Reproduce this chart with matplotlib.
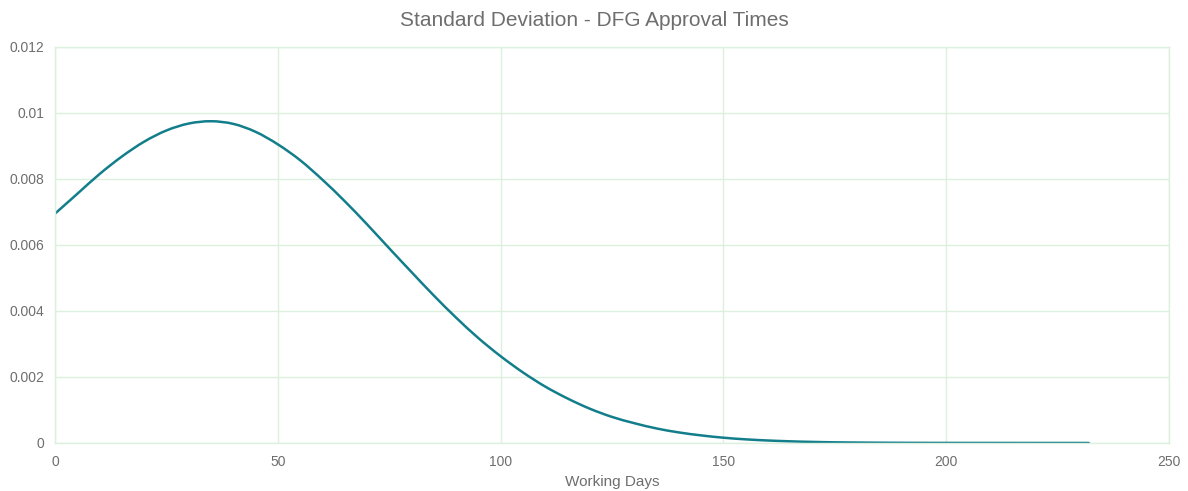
import matplotlib
matplotlib.use("Agg")
import matplotlib.pyplot as plt
from matplotlib.path import Path
from matplotlib.patches import PathPatch

plt.rcParams['font.family'] = ['Liberation Sans', 'DejaVu Sans']

# working days vs density
days = [0, 5, 10, 15, 20, 25, 30, 35, 40, 45, 50, 55, 60, 65, 70, 75, 80, 85, 90, 95,
        100, 105, 110, 115, 120, 125, 130, 135, 140, 145, 150, 155, 160, 165, 170, 175,
        180, 185, 190, 195, 200, 210, 220, 232]
density = [0.00695, 0.00755, 0.00815, 0.00868, 0.00913, 0.00947, 0.00968, 0.00975,
           0.00967, 0.00943, 0.00905, 0.00857, 0.00798, 0.00733, 0.00663, 0.00590,
           0.00518, 0.00447, 0.00380, 0.00318, 0.00263, 0.00214, 0.00171, 0.00135,
           0.00104, 0.00079, 0.00060, 0.00044, 0.00032, 0.00023, 0.00016, 0.00011,
           0.000075, 0.00005, 0.000032, 0.00002, 0.000013, 0.000008, 0.000005,
           0.000003, 0.000002, 0.000001, 0.0000005, 0.0]

line_color = "#137E8B"
grid_color = "#DDF0DD"
text_color = "#6E6E6E"


def smooth_path(xs, ys):
    # excel-style smoothed line: catmull-rom segments drawn as cubic beziers
    verts = [(xs[0], ys[0])]
    codes = [Path.MOVETO]
    n = len(xs)
    for i in range(n - 1):
        x0, y0 = (xs[i - 1], ys[i - 1]) if i > 0 else (xs[i], ys[i])
        x1, y1 = xs[i], ys[i]
        x2, y2 = xs[i + 1], ys[i + 1]
        x3, y3 = (xs[i + 2], ys[i + 2]) if i + 2 < n else (x2, y2)
        c1 = (x1 + (x2 - x0) / 6, y1 + (y2 - y0) / 6)
        c2 = (x2 - (x3 - x1) / 6, y2 - (y3 - y1) / 6)
        verts += [c1, c2, (x2, y2)]
        codes += [Path.CURVE4] * 3
    return Path(verts, codes)


fig = plt.figure(figsize=(11.88, 4.91), dpi=100)
ax = fig.add_axes([0.0463, 0.0978, 0.9377, 0.8065])

ax.add_patch(PathPatch(smooth_path(days, density), facecolor="none",
                       edgecolor=line_color, linewidth=1.8, capstyle="round"))

ax.set_xlim(0, 250)
ax.set_ylim(0, 0.012)
ax.set_xticks([0, 50, 100, 150, 200, 250])
ax.set_yticks([0, 0.002, 0.004, 0.006, 0.008, 0.01, 0.012])
ax.set_yticklabels(["0", "0.002", "0.004", "0.006", "0.008", "0.01", "0.012"])

ax.grid(True, color=grid_color, linewidth=1.0)
ax.set_axisbelow(True)
for s in ax.spines.values():
    s.set_color(grid_color)
    s.set_linewidth(1.0)

ax.tick_params(length=0, colors=text_color, labelsize=10)
ax.tick_params(axis='x', pad=9)
ax.tick_params(axis='y', pad=8)

ax.set_xlabel("Working Days", color=text_color, fontsize=11, labelpad=4)
fig.suptitle("Standard Deviation - DFG Approval Times", color=text_color,
             fontsize=15, y=0.977)

fig.savefig("out.png", dpi=100)
